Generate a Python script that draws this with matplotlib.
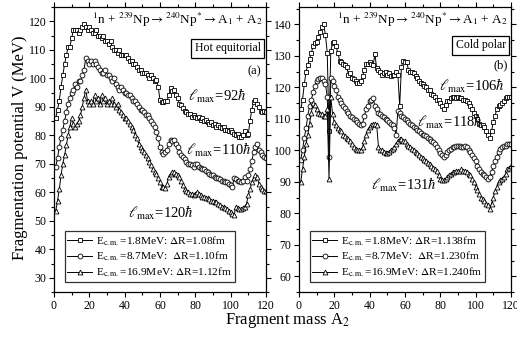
import numpy as np
import matplotlib
matplotlib.use("Agg")
import matplotlib.pyplot as plt
from matplotlib.ticker import MultipleLocator

plt.rcParams['font.family'] = ['Liberation Serif', 'DejaVu Serif']
plt.rcParams['mathtext.fontset'] = 'stix'

# fragment mass A2 = 1..120
mass = np.arange(1, 121)

# (a) hot equatorial
hot_92 = [86, 89, 92, 97, 101, 105, 108, 111, 111, 114,
          117, 117, 117, 116, 117, 118, 119, 118, 117, 118,
          117, 116, 116, 117, 115, 115, 114, 115, 113, 113,
          112, 113, 111, 110, 110, 109, 110, 108, 108, 108,
          108, 107, 106, 106, 105, 105, 104, 103, 103, 102,
          102, 102, 101, 100, 101, 100, 99, 99.5, 97, 92.5,
          91.5, 91.5, 92, 92, 94, 96.5, 95.5, 96, 94, 93,
          91, 90.5, 89.5, 88.5, 88, 87.5, 87.5, 86.5, 87, 86.5,
          86, 86.5, 85.5, 86, 85, 85.5, 84.5, 84, 84.5, 83.5,
          84, 83, 83.5, 83, 82.5, 83, 82, 82, 81.5, 82,
          81, 80.5, 80, 80.5, 79.5, 79.5, 80, 81.5, 80, 80.5,
          85, 89, 91.5, 92.5, 91, 90, 88.5, 88, 88.5, 88]
hot_110 = [69, 72, 76, 79, 82, 85, 88, 91, 93, 95,
           96, 98, 97, 99, 99, 101, 103, 107, 106, 105,
           106, 105, 106, 105, 104, 103, 102, 102, 103, 101,
           101, 100, 99, 100, 98, 97, 96, 97, 96, 95,
           95, 94, 94, 93, 92, 92, 91, 90, 89, 89,
           88, 87, 87, 86, 85, 84, 83, 81, 79, 76,
           74, 73.5, 74, 75, 77, 78.5, 78, 78.5, 77, 76,
           74, 73, 72.5, 71.5, 70.5, 70, 70, 69.5, 69, 70,
           70, 69, 68.5, 68, 68, 67.5, 67, 66.5, 66, 66,
           65.5, 65, 65, 64.5, 64, 64, 63.5, 63.5, 63, 62.5,
           62, 65, 64.5, 64, 64, 63.5, 64, 65.5, 64, 66,
           68, 71, 74, 76, 77, 75, 74, 73, 72.5, 72]
hot_120 = [53.5, 57, 61, 66, 70, 73, 76.5, 80, 83, 86,
           84, 83, 84, 85, 87, 90, 93, 96, 92, 91,
           92, 91, 94, 92, 93, 91, 94, 92, 93, 91,
           92, 91, 93, 91, 90, 91, 89, 88, 87, 86,
           86, 85, 84, 83, 82, 80, 79, 77, 76, 75,
           74, 73, 72, 70.5, 69.5, 68, 67, 66.5, 65, 63.5,
           62, 62, 61.5, 63, 65.5, 66.5, 67, 67, 66.5, 66,
           65.5, 64, 62.5, 61, 60.5, 60, 59.5, 59.5, 59, 59.5,
           60, 59.5, 59, 58.5, 58.5, 58, 58, 57.5, 57, 57,
           56.5, 56.5, 56, 55.5, 55, 55, 54.5, 54, 53.5, 53,
           52.5, 52, 55, 54.5, 54, 54, 54.5, 55, 56, 59,
           61, 63.5, 65, 66, 65.5, 63, 62, 61, 60.5, 60.5]

# (b) cold polar
cold_106 = [113, 116, 121, 125, 127, 129, 131, 133, 134, 134.5,
            136, 137.5, 139, 140, 136.5, 131, 106, 131.5, 134, 134.5,
            133, 131, 128.5, 128, 127.5, 127, 126.5, 124, 124.5, 123,
            122.5, 122, 121.5, 121.5, 122, 123.5, 125.5, 127.5, 127.5, 128,
            127.5, 127, 130.5, 126, 125.5, 125, 124, 124.5, 125, 124,
            124.5, 123.5, 124, 124, 125, 124, 114, 126.5, 128.5, 128,
            128, 125.5, 125, 125, 124.5, 123.5, 123, 122, 121.5, 121,
            120.5, 120, 119, 119, 118, 117.5, 117, 116, 116, 115,
            114, 113, 114.5, 115.5, 115.5, 116.5, 117, 117, 116.5, 117,
            116.5, 116.5, 116, 116, 115.5, 115, 114, 113, 112, 111,
            110, 108.5, 108, 108, 107.5, 106, 105, 104, 106, 109,
            111, 113, 114, 114.5, 115, 115.5, 116.5, 117, 117, 117]
cold_118 = [97, 100, 104, 107, 111, 114, 116, 118.5, 120.5, 122,
            122.5, 123, 123, 122, 121, 117, 98, 123, 122, 120.5,
            119, 117, 116, 115, 114, 113.5, 112.5, 112, 111, 110.5,
            110, 109.5, 109, 108.5, 108, 108.5, 111, 113, 114, 115.5,
            116, 116.5, 114, 113, 112, 111.5, 111, 110.5, 110, 109.5,
            109, 108.5, 108, 107, 105, 112.5, 112, 111, 110.5, 110,
            109.5, 109, 108.5, 108, 107.5, 107, 106.5, 106, 105.5, 105,
            105, 104.5, 104, 103.5, 103, 102.5, 102, 101, 100, 99,
            98.5, 98, 98.5, 99.5, 100, 100.5, 101, 101, 101.5, 101.5,
            101.5, 101, 101, 101.5, 101, 100, 99.5, 98.5, 97.5, 96.5,
            95, 94, 93, 92.5, 92, 91.5, 91, 91.5, 93, 95,
            96.5, 98, 99.5, 100.5, 101, 101.5, 101.5, 102, 102, 102]
cold_131 = [90, 94, 98, 102, 105, 108.5, 112, 115, 114.5, 113,
            112, 111.5, 111.5, 111, 111, 113, 91, 117, 111.5, 109,
            108, 107, 106.5, 106, 105, 104.5, 104, 103.5, 103, 102,
            101, 100.5, 100, 100, 100, 101, 103, 105, 106.5, 107.5,
            108, 108.5, 108.5, 108, 101, 100, 100, 99.5, 99, 99,
            99.5, 100, 100.5, 101, 102, 103, 103.5, 103.5, 103, 103,
            102, 101.5, 101, 100.5, 100, 99.5, 99, 98.5, 98, 97.5,
            97, 96.5, 96, 95.5, 95, 94.5, 94, 93.5, 92, 91,
            90.5, 90.5, 91, 91.5, 92, 92.5, 93, 93, 93.5, 93.5,
            93.5, 94, 93.5, 93.5, 93, 92.5, 92, 91, 90, 88.5,
            87.5, 86, 85, 84.5, 84, 83, 82.5, 81.5, 83, 85,
            87, 88.5, 90, 90.5, 91, 91.5, 92.5, 94, 94.5, 95]

hot_labels = [r'E$_{\rm c.m.}$=1.8MeV: $\Delta$R=1.08fm',
              r'E$_{\rm c.m.}$=8.7MeV:  $\Delta$R=1.10fm',
              r'E$_{\rm c.m.}$=16.9MeV: $\Delta$R=1.12fm']
cold_labels = [r'E$_{\rm c.m.}$=1.8MeV: $\Delta$R=1.138fm',
               r'E$_{\rm c.m.}$=8.7MeV:  $\Delta$R=1.230fm',
               r'E$_{\rm c.m.}$=16.9MeV: $\Delta$R=1.240fm']
markers = ['s', 'o', '^']
reaction = r'$^{1}$n + $^{239}$Np$\rightarrow$$^{240}$Np$^{*}$$\rightarrow$A$_{1}$ + A$_{2}$'

fig = plt.figure(figsize=(5.17, 3.47), dpi=100)
ax1 = fig.add_axes([0.1044, 0.1585, 0.410, 0.8213])
ax2 = fig.add_axes([0.5783, 0.1585, 0.410, 0.8213])


def draw_panel(ax, series, labels, ylim):
    for vals, m, lab in zip(series, markers, labels):
        ax.plot(mass, vals, color='black', lw=0.7, marker=m, ms=3.5,
                mfc='white', mec='black', mew=0.6, label=lab)
    ax.set_xlim(0, 120)
    ax.set_ylim(*ylim)
    ax.xaxis.set_major_locator(MultipleLocator(20))
    ax.xaxis.set_minor_locator(MultipleLocator(10))
    ax.yaxis.set_major_locator(MultipleLocator(10))
    ax.yaxis.set_minor_locator(MultipleLocator(5))
    ax.tick_params(which='both', direction='out', labelsize=8.5, width=0.8, pad=2)
    ax.tick_params(which='major', length=3.5)
    ax.tick_params(which='minor', length=2)
    for s in ax.spines.values():
        s.set_linewidth(0.9)
    # secondary ticks on top and right
    ax.tick_params(which='both', top=True, right=True, labeltop=False, labelright=False)
    leg = ax.legend(loc='lower left', bbox_to_anchor=(0.05, 0.035), fontsize=8.2,
                    frameon=True, fancybox=False, edgecolor='black',
                    handlelength=2.2, handletextpad=0.3, borderpad=0.25,
                    labelspacing=0.2, borderaxespad=0)
    leg.get_frame().set_linewidth(0.9)
    ax.text(0.585, 0.985, reaction, transform=ax.transAxes, ha='center', va='top', fontsize=9.5)


draw_panel(ax1, [hot_92, hot_110, hot_120], hot_labels, (25, 125))
draw_panel(ax2, [cold_106, cold_118, cold_131], cold_labels, (55, 145.5))

ax1.text(0.975, 0.855, 'Hot equitorial', transform=ax1.transAxes, ha='right', va='center',
         fontsize=8.5, bbox=dict(boxstyle='square,pad=0.3', fc='white', ec='black', lw=0.9))
ax1.text(0.975, 0.775, '(a)', transform=ax1.transAxes, ha='right', va='center', fontsize=9)
ax1.text(76, 92, r'$\ell_{\rm max}$=92$\hbar$', fontsize=10.5)
ax1.text(75, 73, r'$\ell_{\rm max}$=110$\hbar$', fontsize=10.5)
ax1.text(42, 51, r'$\ell_{\rm max}$=120$\hbar$', fontsize=10.5)

ax2.text(0.975, 0.865, 'Cold polar', transform=ax2.transAxes, ha='right', va='center',
         fontsize=8.5, bbox=dict(boxstyle='square,pad=0.3', fc='white', ec='black', lw=0.9))
ax2.text(0.985, 0.795, '(b)', transform=ax2.transAxes, ha='right', va='center', fontsize=9)
ax2.text(79, 119, r'$\ell_{\rm max}$=106$\hbar$', fontsize=10.5)
ax2.text(67, 107.5, r'$\ell_{\rm max}$=118$\hbar$', fontsize=10.5)
ax2.text(41, 87.5, r'$\ell_{\rm max}$=131$\hbar$', fontsize=10.5)

fig.text(0.039, 0.573, 'Fragmentation potential V (MeV)', rotation=90, ha='center', va='center', fontsize=12)
fig.text(0.557, 0.075, r'Fragment mass A$_{2}$', ha='center', va='center', fontsize=12)

fig.savefig('out.png', dpi=100)
